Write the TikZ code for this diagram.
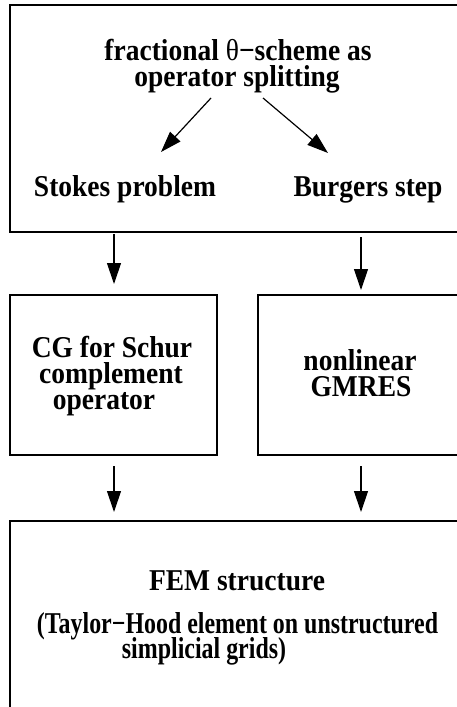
\documentclass[tikz,border=0pt]{standalone}
\usepackage{fontspec}
\setmainfont{Liberation Serif}
\usetikzlibrary{arrows.meta}
% text drawn slightly taller than wide
\newcommand{\tall}[2][1]{\scalebox{#1}[1.1]{#2}}
\tikzset{
  frame/.style={draw=black, line width=1.3pt},
  lbl/.style={anchor=base, inner sep=0pt, font=\fontsize{27.5}{27.5}\selectfont\bfseries},
  flow/.style={line width=1.2pt, -{Triangle[length=21pt, width=14pt]}}
}
\begin{document}
\begin{tikzpicture}[x=1pt, y=-1pt]
  \clip (0,0) rectangle (457,707);
  \fill[white] (0,0) rectangle (457,707);

  % boxes (right and bottom edges run past the page)
  \draw[frame] (10,5) rectangle (470,232);
  \draw[frame] (10,295) rectangle (217,455);
  \draw[frame] (258,295) rectangle (470,455);
  \draw[frame] (10,521) rectangle (470,720);

  % top box
  \node[lbl] (frac) at (238,60) {\tall{fractional {\mdseries θ}−scheme as}};
  \node[lbl] (split) at (237,86) {\tall{operator splitting}};
  \node[lbl] (stokes) at (125,196) {\tall{Stokes problem}};
  \node[lbl] (burgers) at (368,196) {\tall{Burgers step}};

  % middle boxes
  \node[lbl] (cg) at (112,357) {\tall{CG for Schur}};
  \node[lbl] (compl) at (111,383) {\tall{complement}};
  \node[lbl] (oper) at (104,409) {\tall{operator}};
  \node[lbl] (nonlin) at (360,370) {\tall{nonlinear}};
  \node[lbl] (gmres) at (361,396) {\tall{GMRES}};

  % bottom box
  \node[lbl] (fem) at (237,590) {\tall{FEM structure}};
  \node[lbl] (taylor) at (237.5,633) {\tall[0.87]{(Taylor−Hood element on unstructured}};
  \node[lbl] (simpl) at (204,658) {\tall[0.87]{simplicial grids)}};

  % arrow end points
  \coordinate (d1s) at (211,98);  \coordinate (d1e) at (161,152);
  \coordinate (d2s) at (263,98);  \coordinate (d2e) at (328,153);
  \coordinate (a1s) at (114,234); \coordinate (a1e) at (114,284);
  \coordinate (a2s) at (361,237); \coordinate (a2e) at (361,290);
  \coordinate (a3s) at (114,466); \coordinate (a3e) at (114,512);
  \coordinate (a4s) at (361,466); \coordinate (a4e) at (361,512);

  \draw[flow] (d1s) -- (d1e);
  \draw[flow] (d2s) -- (d2e);
  \draw[flow] (a1s) -- (a1e);
  \draw[flow] (a2s) -- (a2e);
  \draw[flow] (a3s) -- (a3e);
  \draw[flow] (a4s) -- (a4e);
\end{tikzpicture}
\end{document}
